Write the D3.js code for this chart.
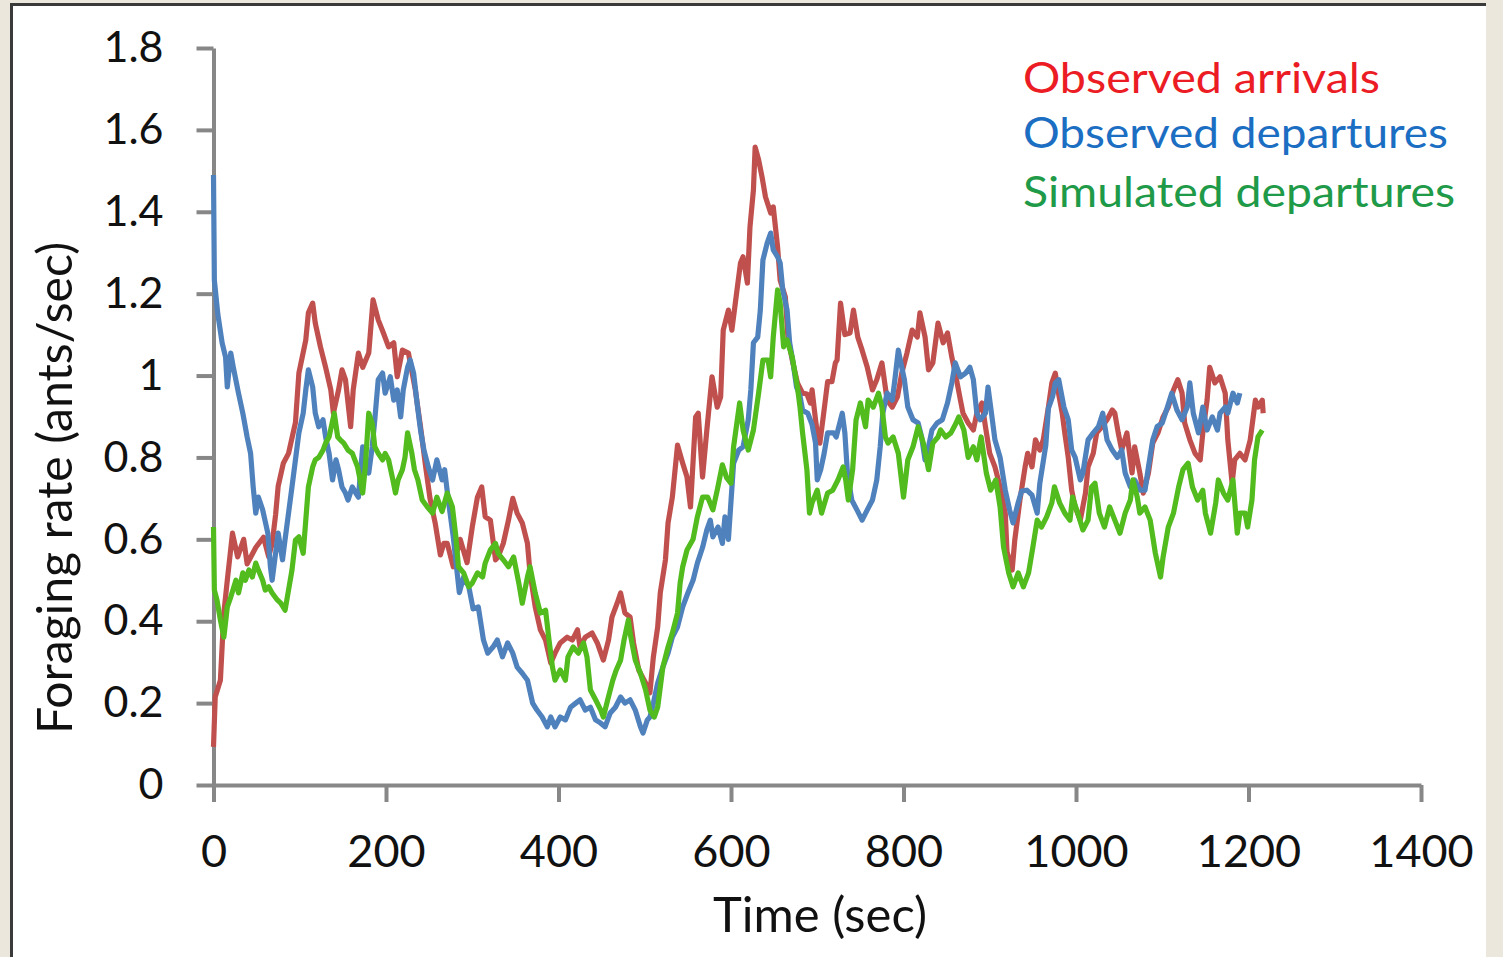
<!DOCTYPE html>
<html>
<head>
<meta charset="utf-8">
<script src="https://cdn.jsdelivr.net/npm/d3@7"></script>
<style>
html,body{margin:0;padding:0;background:#ebe7dc;}
svg{display:block;}
</style>
</head>
<body>
<svg id="chart" width="1503" height="957"></svg>
<script>
// ---- data (time in seconds, rate in ants/sec) ----
const xTicks = [0, 200, 400, 600, 800, 1000, 1200, 1400];
const yTicks = [0, 0.2, 0.4, 0.6, 0.8, 1, 1.2, 1.4, 1.6, 1.8];
const seriesNames = ["Observed arrivals", "Observed departures", "Simulated departures"];

const observedArrivals = [
[0,0.093],[2,0.215],[8,0.256],[12,0.42],[16,0.50],[22,0.615],[28,0.557],[35,0.60],[39,0.54],[49,0.58],
[58,0.605],[64,0.557],[68,0.59],[72,0.66],[75,0.73],[81,0.786],[87,0.81],[95,0.885],[99,1.006],[107,1.087],
[110,1.153],[115,1.177],[118,1.128],[124,1.07],[130,1.02],[136,0.965],[139,0.908],[145,0.965],[149,1.014],[153,0.99],
[159,0.875],[162,0.965],[168,1.055],[173,1.02],[180,1.055],[185,1.185],[191,1.136],[197,1.104],[203,1.07],[209,1.08],
[213,0.997],[219,1.062],[226,1.055],[234,0.965],[240,0.875],[246,0.777],[251,0.70],[257,0.64],[263,0.562],[267,0.59],
[271,0.59],[278,0.533],[286,0.60],[294,0.543],[300,0.63],[306,0.703],[311,0.728],[315,0.655],[321,0.647],[327,0.55],
[330,0.557],[336,0.59],[342,0.647],[347,0.70],[352,0.664],[358,0.64],[364,0.59],[367,0.518],[373,0.435],[379,0.379],
[385,0.354],[391,0.298],[396,0.322],[402,0.347],[410,0.361],[416,0.354],[422,0.379],[425,0.337],[431,0.361],[439,0.371],
[445,0.347],[452,0.305],[458,0.354],[462,0.41],[468,0.444],[472,0.469],[477,0.42],[483,0.41],[487,0.347],[493,0.281],
[501,0.249],[506,0.225],[510,0.313],[515,0.386],[518,0.469],[524,0.55],[527,0.64],[532,0.703],[538,0.83],[544,0.786],
[549,0.752],[553,0.679],[559,0.899],[562,0.908],[567,0.752],[572,0.867],[578,0.997],[584,0.923],[588,0.948],[591,1.111],
[597,1.16],[601,1.111],[605,1.177],[611,1.275],[614,1.29],[619,1.226],[622,1.363],[626,1.453],[628,1.558],[632,1.527],
[636,1.485],[640,1.436],[646,1.397],[649,1.412],[654,1.314],[657,1.233],[663,1.192],[666,1.094],[671,1.038],[677,0.982],
[683,0.957],[688,0.955],[692,0.933],[694,0.965],[698,0.892],[700,0.86],[703,0.835],[707,0.90],[712,0.985],[717,0.985],
[721,1.031],[723,1.038],[727,1.177],[732,1.10],[738,1.104],[742,1.16],[747,1.094],[752,1.062],[758,1.02],[764,0.965],
[769,0.99],[775,1.031],[781,0.94],[787,0.923],[793,0.948],[798,1.006],[804,1.055],[810,1.111],[816,1.094],[819,1.153],
[825,1.094],[829,1.014],[834,1.031],[840,1.128],[846,1.08],[851,1.104],[856,1.045],[860,1.006],[866,0.94],[869,0.908],
[875,0.884],[881,0.867],[885,0.908],[891,0.933],[895,0.875],[900,0.81],[906,0.777],[912,0.728],[918,0.664],[920,0.57],
[926,0.525],[929,0.598],[935,0.696],[941,0.777],[944,0.81],[949,0.777],[953,0.843],[958,0.818],[962,0.843],[968,0.923],
[972,0.982],[976,1.006],[979,0.965],[984,0.908],[987,0.86],[991,0.80],[995,0.72],[999,0.679],[1005,0.647],[1011,0.713],
[1014,0.777],[1020,0.81],[1024,0.86],[1030,0.875],[1036,0.892],[1042,0.916],[1045,0.908],[1049,0.86],[1053,0.818],[1059,0.86],
[1065,0.762],[1068,0.826],[1074,0.762],[1078,0.713],[1084,0.762],[1089,0.835],[1095,0.86],[1101,0.899],[1107,0.923],[1113,0.965],
[1118,0.99],[1123,0.957],[1126,0.884],[1132,0.843],[1138,0.81],[1144,0.794],[1147,0.86],[1152,0.94],[1155,1.02],[1161,0.982],
[1167,0.997],[1173,0.957],[1176,0.843],[1181,0.737],[1184,0.794],[1190,0.81],[1196,0.794],[1202,0.843],[1208,0.94],[1211,0.923],
[1216,0.94],[1217,0.908]
];

const observedDepartures = [
[0,1.49],[1,1.233],[5,1.15],[10,1.08],[14,1.045],[16,0.972],[20,1.055],[23,1.02],[29,0.957],[34,0.908],
[39,0.85],[43,0.81],[46,0.728],[49,0.664],[52,0.703],[57,0.672],[63,0.615],[66,0.533],[68,0.50],[72,0.566],
[75,0.615],[80,0.55],[83,0.60],[87,0.664],[91,0.728],[95,0.794],[99,0.86],[104,0.908],[107,0.965],[110,1.014],
[115,0.972],[118,0.908],[122,0.875],[127,0.892],[130,0.85],[134,0.81],[138,0.745],[142,0.794],[145,0.77],[149,0.728],
[153,0.713],[156,0.696],[161,0.728],[165,0.713],[168,0.703],[173,0.826],[176,0.794],[180,0.762],[184,0.826],[187,0.892],
[191,0.99],[196,1.006],[199,0.957],[205,0.997],[209,0.94],[213,0.965],[217,0.899],[220,0.965],[225,1.02],[228,1.038],
[232,1.006],[236,0.933],[240,0.867],[244,0.818],[249,0.777],[254,0.745],[259,0.794],[265,0.745],[268,0.77],[272,0.70],
[278,0.606],[285,0.47],[290,0.508],[296,0.484],[301,0.43],[307,0.435],[313,0.354],[318,0.322],[324,0.337],[329,0.354],
[335,0.313],[341,0.347],[347,0.322],[352,0.288],[358,0.273],[364,0.256],[370,0.20],[375,0.183],[381,0.166],[387,0.142],
[391,0.166],[396,0.142],[402,0.166],[408,0.159],[414,0.19],[420,0.20],[425,0.208],[431,0.183],[437,0.19],[443,0.159],
[449,0.151],[454,0.142],[460,0.176],[466,0.19],[472,0.215],[477,0.20],[483,0.208],[489,0.183],[495,0.142],[498,0.127],
[503,0.159],[506,0.166],[510,0.20],[515,0.249],[521,0.288],[527,0.322],[532,0.361],[538,0.386],[544,0.435],[550,0.469],
[556,0.50],[561,0.542],[567,0.58],[572,0.623],[576,0.647],[579,0.606],[585,0.63],[590,0.59],[593,0.655],[597,0.60],
[603,0.786],[609,0.818],[614,0.826],[620,0.892],[623,0.965],[626,1.08],[631,1.094],[634,1.16],[637,1.282],[642,1.324],
[646,1.348],[649,1.307],[654,1.29],[657,1.275],[660,1.209],[665,1.16],[668,1.08],[672,1.031],[676,0.972],[680,0.95],
[683,0.915],[689,0.908],[694,0.88],[698,0.835],[700,0.745],[704,0.77],[708,0.81],[712,0.86],[719,0.86],[722,0.85],
[729,0.908],[732,0.86],[735,0.762],[740,0.696],[746,0.672],[752,0.647],[758,0.672],[764,0.696],[769,0.745],[773,0.826],
[776,0.908],[781,0.957],[787,0.94],[790,0.99],[794,1.062],[798,1.02],[801,0.99],[805,0.923],[811,0.892],[817,0.884],
[821,0.85],[825,0.794],[829,0.826],[833,0.867],[839,0.884],[845,0.892],[851,0.933],[856,0.982],[860,1.031],[866,0.997],
[872,1.006],[877,1.02],[881,0.99],[885,0.908],[889,0.892],[895,0.908],[898,0.972],[903,0.892],[906,0.843],[912,0.80],
[918,0.72],[923,0.672],[927,0.64],[933,0.69],[937,0.718],[943,0.72],[949,0.708],[955,0.664],[958,0.736],[965,0.83],
[968,0.92],[973,0.95],[976,0.982],[980,0.99],[986,0.923],[991,0.892],[995,0.818],[999,0.80],[1005,0.745],[1008,0.762],
[1014,0.843],[1020,0.86],[1026,0.875],[1031,0.908],[1036,0.843],[1042,0.818],[1048,0.80],[1053,0.818],[1057,0.762],[1063,0.728],
[1068,0.745],[1074,0.72],[1080,0.72],[1084,0.777],[1089,0.843],[1094,0.875],[1100,0.884],[1106,0.923],[1111,0.957],[1117,0.916],
[1123,0.892],[1129,0.923],[1132,0.982],[1136,0.908],[1142,0.86],[1147,0.923],[1152,0.867],[1158,0.899],[1164,0.867],[1167,0.908],
[1173,0.923],[1176,0.908],[1182,0.957],[1187,0.933],[1190,0.957]
];

const simulatedDepartures = [
[0,0.63],[1,0.476],[4,0.452],[8,0.403],[12,0.361],[16,0.435],[20,0.459],[26,0.50],[29,0.469],[34,0.518],
[37,0.50],[41,0.525],[45,0.508],[49,0.542],[52,0.525],[57,0.50],[60,0.476],[64,0.484],[68,0.469],[74,0.452],
[78,0.444],[83,0.427],[87,0.476],[91,0.525],[95,0.598],[99,0.606],[104,0.566],[107,0.647],[110,0.728],[115,0.777],
[118,0.794],[122,0.80],[127,0.818],[130,0.835],[134,0.85],[140,0.908],[144,0.85],[147,0.843],[151,0.835],[156,0.818],
[161,0.81],[167,0.777],[173,0.713],[176,0.777],[180,0.908],[184,0.884],[187,0.826],[191,0.81],[196,0.794],[199,0.81],
[203,0.794],[208,0.745],[211,0.713],[214,0.745],[219,0.77],[222,0.80],[225,0.86],[230,0.81],[233,0.77],[237,0.745],
[242,0.696],[248,0.679],[254,0.664],[259,0.703],[265,0.668],[271,0.713],[277,0.679],[281,0.606],[284,0.533],[290,0.518],
[296,0.484],[300,0.493],[306,0.518],[312,0.508],[315,0.542],[321,0.574],[327,0.59],[330,0.566],[336,0.55],[342,0.533],
[348,0.557],[354,0.493],[358,0.444],[364,0.508],[367,0.533],[373,0.469],[379,0.42],[385,0.427],[389,0.354],[393,0.288],
[396,0.256],[402,0.281],[408,0.256],[411,0.313],[417,0.337],[423,0.322],[429,0.347],[433,0.313],[437,0.232],[443,0.208],
[449,0.183],[452,0.166],[457,0.208],[463,0.256],[467,0.281],[472,0.305],[476,0.354],[481,0.403],[483,0.371],[489,0.305],
[495,0.273],[501,0.232],[506,0.183],[511,0.166],[515,0.19],[521,0.288],[527,0.337],[532,0.371],[538,0.42],[541,0.493],
[544,0.533],[549,0.574],[556,0.60],[561,0.655],[567,0.703],[573,0.703],[579,0.672],[584,0.72],[590,0.782],[595,0.75],
[600,0.737],[603,0.826],[610,0.933],[614,0.867],[620,0.818],[626,0.867],[632,0.957],[637,1.038],[643,1.038],[646,0.997],
[649,1.094],[654,1.209],[657,1.177],[661,1.07],[665,1.087],[671,1.045],[677,0.972],[680,0.923],[683,0.86],[688,0.77],
[691,0.664],[694,0.689],[700,0.72],[705,0.664],[712,0.713],[718,0.72],[724,0.745],[730,0.777],[733,0.745],[736,0.696],
[741,0.77],[745,0.892],[750,0.933],[756,0.875],[759,0.94],[765,0.923],[771,0.957],[775,0.923],[779,0.85],[782,0.835],
[788,0.85],[794,0.81],[800,0.703],[805,0.794],[811,0.826],[817,0.875],[823,0.835],[829,0.77],[834,0.835],[840,0.85],
[843,0.867],[849,0.85],[855,0.86],[861,0.884],[864,0.899],[870,0.867],[875,0.80],[881,0.826],[885,0.794],[890,0.85],
[896,0.762],[901,0.72],[907,0.745],[912,0.679],[916,0.581],[922,0.518],[927,0.484],[933,0.518],[939,0.484],[945,0.518],
[950,0.581],[955,0.647],[960,0.63],[966,0.655],[972,0.689],[975,0.728],[981,0.689],[987,0.664],[993,0.647],[996,0.703],
[1002,0.664],[1008,0.623],[1014,0.647],[1018,0.728],[1022,0.737],[1027,0.664],[1033,0.63],[1039,0.679],[1045,0.647],[1051,0.615],
[1057,0.664],[1063,0.696],[1066,0.745],[1071,0.703],[1074,0.664],[1080,0.679],[1086,0.647],[1092,0.566],[1098,0.508],[1101,0.557],
[1107,0.63],[1113,0.664],[1119,0.728],[1124,0.77],[1130,0.786],[1135,0.728],[1141,0.696],[1147,0.72],[1150,0.664],[1156,0.615],
[1162,0.689],[1165,0.745],[1171,0.713],[1176,0.696],[1182,0.745],[1187,0.615],[1190,0.664],[1196,0.664],[1199,0.63],[1204,0.696],
[1207,0.794],[1211,0.85],[1216,0.867]
];

const seriesColors = ["#c0504d", "#4f81bd", "#52bb1d"];
const legendColors = ["#ec1c24", "#1b6ec2", "#1f9a48"];

// ---- drawing ----
const svg = d3.select("#chart");

// page frame
svg.append("rect").attr("x", 0).attr("y", 0).attr("width", 1503).attr("height", 957).attr("fill", "#ebe7dc");
svg.append("rect").attr("x", 12).attr("y", 5).attr("width", 1474).attr("height", 960).attr("fill", "#ffffff");
svg.append("path").attr("d", "M11.5,960 V4.5 H1486").attr("fill", "none").attr("stroke", "#3a3a3a").attr("stroke-width", 3);

const x = d3.scaleLinear().domain([0, 1400]).range([213.5, 1421]);
const y = d3.scaleLinear().domain([0, 1.8]).range([785, 48]);

const fmt = d => String(+d.toFixed(1));

const gx = svg.append("g").attr("transform", "translate(0,785)")
  .call(d3.axisBottom(x).tickValues(xTicks).tickSize(17).tickSizeOuter(0).tickPadding(33).tickFormat(fmt));
const gy = svg.append("g").attr("transform", "translate(213.5,0)")
  .call(d3.axisLeft(y).tickValues(yTicks).tickSize(17).tickSizeOuter(0).tickPadding(33).tickFormat(fmt));

[gx, gy].forEach(g => {
  g.select(".domain").attr("stroke", "#878787").attr("stroke-width", 4);
  g.selectAll(".tick line").attr("stroke", "#878787").attr("stroke-width", 4);
  g.selectAll(".tick text").attr("fill", "#111").attr("font-family", "Lato, 'Open Sans', sans-serif");
});
gx.selectAll(".tick text").attr("font-size", 45);
gy.selectAll(".tick text").attr("font-size", 43);

// lines
const line = d3.line().x(d => x(d[0])).y(d => y(d[1]));
const allSeries = [observedArrivals, observedDepartures, simulatedDepartures];
svg.append("g").selectAll("path").data(allSeries).join("path")
  .attr("d", line)
  .attr("fill", "none")
  .attr("stroke", (d, i) => seriesColors[i])
  .attr("stroke-width", 5.2)
  .attr("stroke-linejoin", "round");

// axis titles
svg.append("text").attr("x", 820).attr("y", 932).attr("text-anchor", "middle")
  .attr("font-family", "Lato, 'Open Sans', sans-serif").attr("font-size", 48).attr("fill", "#111")
  .attr("textLength", 214).attr("lengthAdjust", "spacingAndGlyphs")
  .text("Time (sec)");
svg.append("text").attr("transform", "translate(72,488) rotate(-90)").attr("text-anchor", "middle")
  .attr("font-family", "Lato, 'Open Sans', sans-serif").attr("font-size", 48).attr("fill", "#111")
  .attr("textLength", 492).attr("lengthAdjust", "spacingAndGlyphs")
  .text("Foraging rate (ants/sec)");

// legend
const legendY = [93, 148, 207];
const legendW = [357, 425, 432];
svg.append("g").selectAll("text").data(seriesNames).join("text")
  .attr("x", 1023).attr("y", (d, i) => legendY[i])
  .attr("font-family", "Lato, 'Noto Sans', sans-serif").attr("font-size", 42)
  .attr("fill", (d, i) => legendColors[i])
  .attr("textLength", (d, i) => legendW[i]).attr("lengthAdjust", "spacingAndGlyphs")
  .text(d => d);
</script>
</body>
</html>
